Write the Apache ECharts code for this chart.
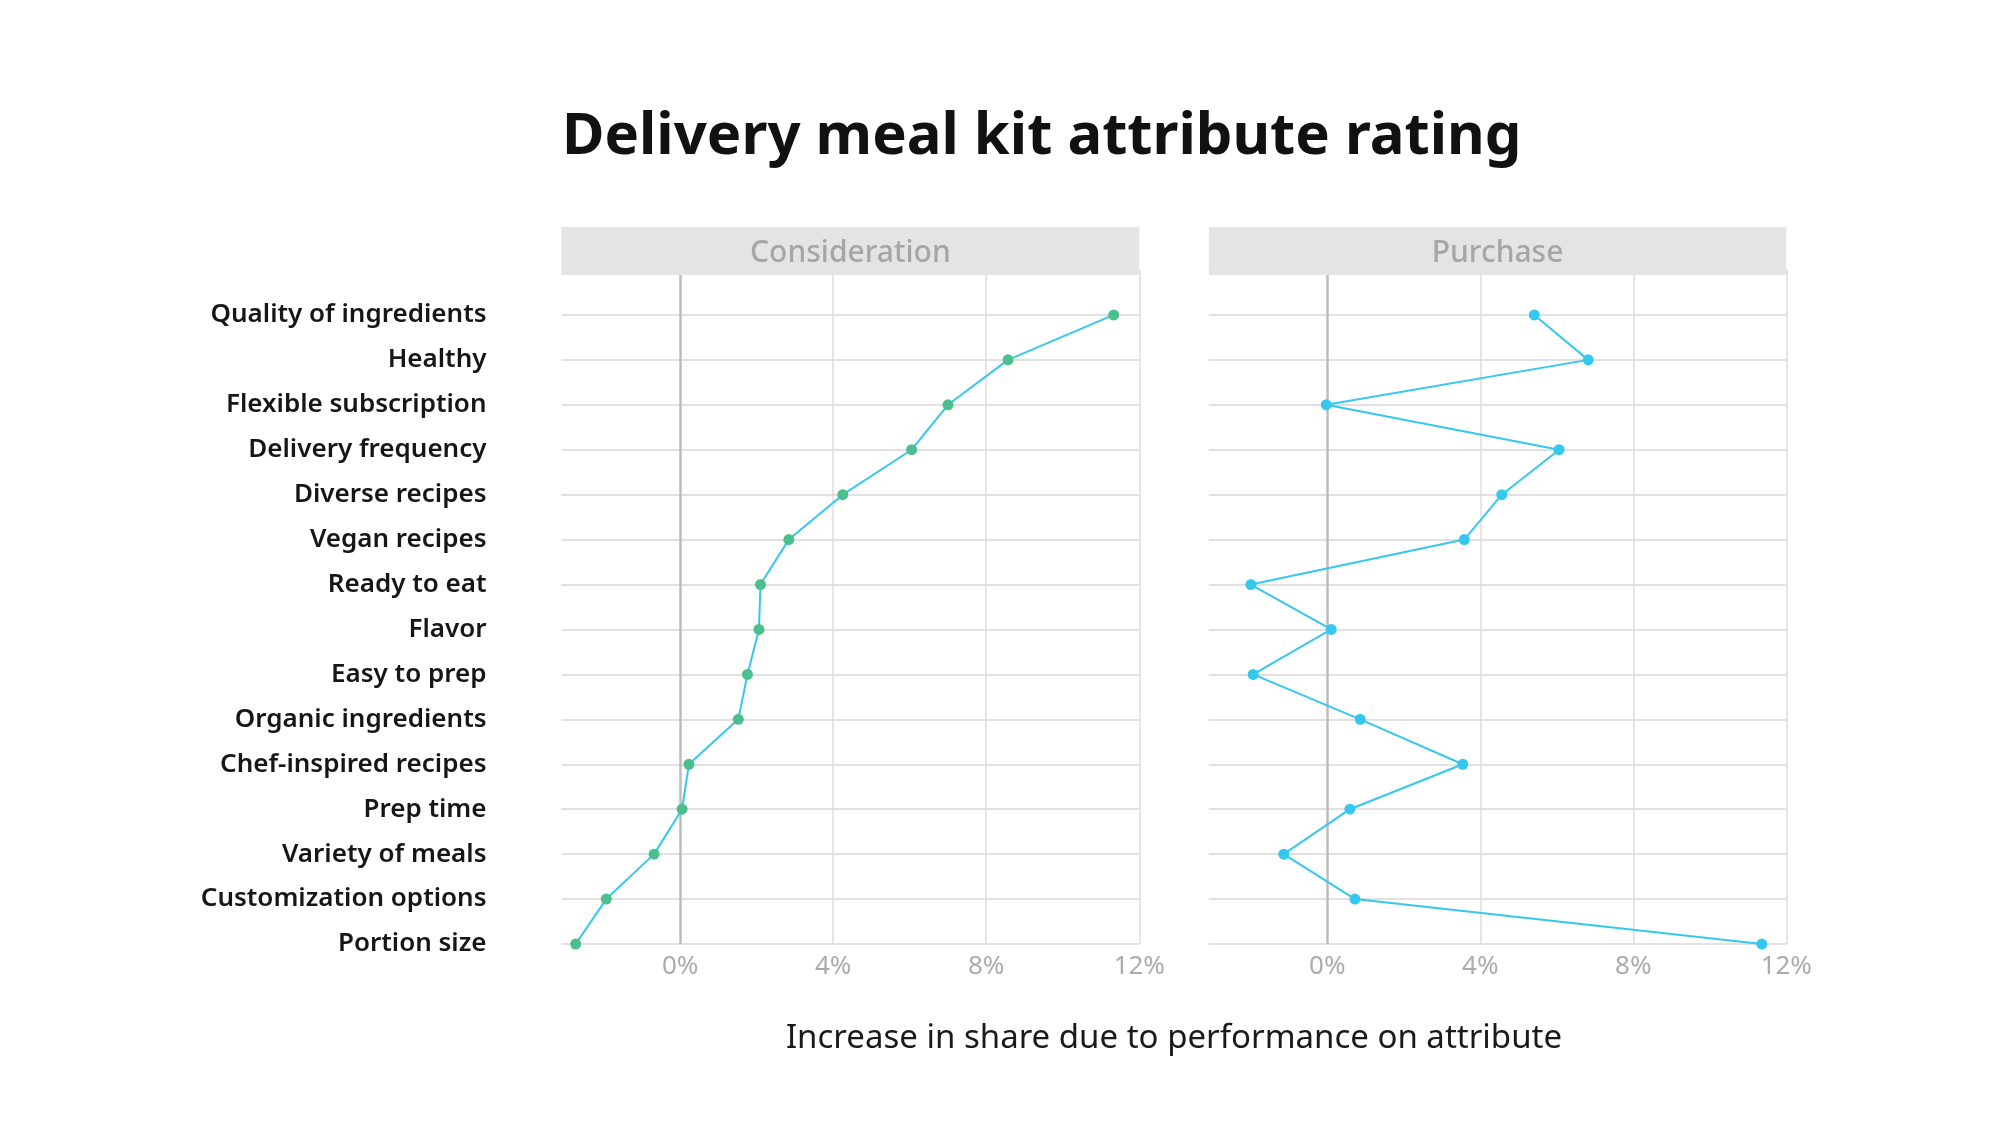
<!DOCTYPE html>
<html>
<head>
<meta charset="utf-8">
<script src="https://cdn.jsdelivr.net/npm/echarts@6/dist/echarts.min.js"></script>
<style>
html,body{margin:0;padding:0;background:#fff;}
#chart{width:2000px;height:1125px;}
</style>
</head>
<body>
<div id="chart"></div>
<script>
// ---- data ----
const categories = [
  'Quality of ingredients','Healthy','Flexible subscription','Delivery frequency',
  'Diverse recipes','Vegan recipes','Ready to eat','Flavor','Easy to prep',
  'Organic ingredients','Chef-inspired recipes','Prep time','Variety of meals',
  'Customization options','Portion size'
];
const consideration = [11.33, 8.57, 7.0, 6.05, 4.25, 2.84, 2.10, 2.06, 1.76, 1.52, 0.23, 0.05, -0.68, -1.93, -2.73];
const purchase = [5.41, 6.82, -0.03, 6.06, 4.56, 3.58, -2.0, 0.10, -1.94, 0.86, 3.54, 0.59, -1.14, 0.72, 11.36];
const panelTitles = ['Consideration', 'Purchase'];
const tickValues = [0, 4, 8, 12];
const chartTitle = 'Delivery meal kit attribute rating';
const xAxisTitle = 'Increase in share due to performance on attribute';

// ---- layout / style ----
const FONT = "'Noto Sans', Roboto, sans-serif";
const LINE_COLOR = '#35c8ee';
const markerColors = ['#4bbf8e', '#35c8ee'];
const panels = [
  {left: 561.5, width: 577.8},
  {left: 1208.8, width: 577.5}
];
const GRID_TOP = 270, GRID_BOTTOM_Y = 944;
const HEADER_TOP = 227, HEADER_H = 48;
const X_MIN = -3.1, X_MAX = 12;

const yData = [''].concat(categories);

const grids = panels.map(p => ({
  left: p.left, width: p.width, top: GRID_TOP, height: GRID_BOTTOM_Y - GRID_TOP,
  containLabel: false
}));

const xAxes = panels.map((p, i) => ({
  type: 'value', gridIndex: i, min: X_MIN, max: X_MAX,
  axisLine: {show: false}, axisTick: {show: false}, splitLine: {show: false},
  axisLabel: {
    customValues: tickValues,
    formatter: v => v + '%',
    color: '#ababab', fontSize: 26, fontFamily: FONT, margin: 10
  }
}));

const yAxes = panels.map((p, i) => ({
  type: 'category', gridIndex: i, data: yData, inverse: true, boundaryGap: false,
  axisLine: {show: false}, axisTick: {show: false},
  splitLine: {show: true, lineStyle: {color: '#e1e1e1', width: 2}},
  axisLabel: i === 0 ? {
    show: true, color: '#161616', fontSize: 26, fontWeight: 600, fontFamily: FONT,
    margin: 75, align: 'right', interval: 0
  } : {show: false}
}));

const seriesValues = [consideration, purchase];
const series = seriesValues.map((vals, i) => ({
  type: 'line', xAxisIndex: i, yAxisIndex: i,
  data: vals.map((v, k) => [v, categories[k]]),
  symbol: 'circle', symbolSize: 11,
  lineStyle: {color: LINE_COLOR, width: 2},
  itemStyle: {color: markerColors[i]},
  z: 5,
  markLine: {
    silent: true, symbol: 'none', animation: false,
    label: {show: false},
    lineStyle: {color: '#dcdcdc', width: 1.5, type: 'solid'},
    data: tickValues.map(t => t === 0
      ? {xAxis: t, lineStyle: {color: '#bdbdbd', width: 2.5, type: 'solid'}}
      : {xAxis: t})
  }
}));

const graphics = [];
panels.forEach((p, i) => {
  graphics.push({
    type: 'rect', z: 100,
    shape: {x: p.left, y: HEADER_TOP, width: p.width, height: HEADER_H},
    style: {fill: '#e4e4e4'}
  });
  graphics.push({
    type: 'text', z: 101,
    x: p.left + p.width / 2, y: HEADER_TOP + HEADER_H / 2 + 2,
    style: {
      text: panelTitles[i], fill: '#a6a6a6', font: `500 30px ${FONT}`,
      textAlign: 'center', textVerticalAlign: 'middle'
    }
  });
});
graphics.push({
  type: 'text', z: 101, x: 562, y: 137,
  style: {text: chartTitle, fill: '#111', font: `700 58px ${FONT}`,
    textAlign: 'left', textVerticalAlign: 'middle'}
});
graphics.push({
  type: 'text', z: 101, x: 1174, y: 1039,
  style: {text: xAxisTitle, fill: '#1a1a1a', font: `400 33px ${FONT}`,
    textAlign: 'center', textVerticalAlign: 'middle'}
});

const chart = echarts.init(document.getElementById('chart'), null, {renderer: 'canvas'});
chart.setOption({
  animation: false,
  backgroundColor: '#fff',
  grid: grids,
  xAxis: xAxes,
  yAxis: yAxes,
  series: series,
  graphic: graphics
});
</script>
</body>
</html>
